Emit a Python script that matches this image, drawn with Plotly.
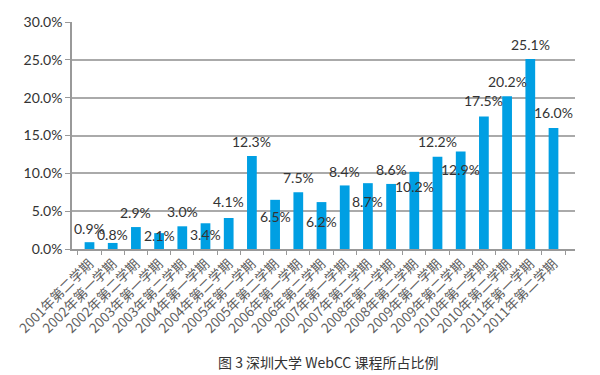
import plotly.graph_objects as go

categories = ["2001年第二学期", "2002年第一学期", "2002年第二学期", "2003年第一学期",
              "2003年第二学期", "2004年第一学期", "2004年第二学期", "2005年第一学期",
              "2005年第二学期", "2006年第一学期", "2006年第二学期", "2007年第一学期",
              "2007年第二学期", "2008年第一学期", "2008年第二学期", "2009年第一学期",
              "2009年第二学期", "2010年第一学期", "2010年第二学期", "2011年第一学期",
              "2011年第二学期"]
values = [0.9, 0.8, 2.9, 2.1, 3.0, 3.4, 4.1, 12.3, 6.5, 7.5, 6.2, 8.4,
          8.7, 8.6, 10.2, 12.2, 12.9, 17.5, 20.2, 25.1, 16.0]
y_ticks = [0, 5, 10, 15, 20, 25, 30]
y_tick_labels = ["0.0%", "5.0%", "10.0%", "15.0%", "20.0%", "25.0%", "30.0%"]
caption = "图 3 深圳大学 WebCC 课程所占比例"

# label placement: vertical offset (px) of each value label relative to bar top
label_shift = [14, 8, 15, -2, 15, -11, 16, 14, -17, 15, -19, 14,
               -18, 14, -15, 15, -18, 16, 15, 15, 15]

fig = go.Figure()
fig.add_trace(go.Bar(
    x=categories, y=values, marker=dict(color="#009FE3", line=dict(width=0)),
    width=0.42, hoverinfo="skip",
))

for c, v, s in zip(categories, values, label_shift):
    fig.add_annotation(x=c, y=v, text=f"{v:.1f}%", showarrow=False,
                       yshift=s, yanchor="middle", xanchor="center",
                       font=dict(family="Lato, Noto Sans", size=14, color="#333333"))

fig.add_annotation(x=0.5, xref="paper", y=0, yref="paper", yshift=-113,
                   text=caption, showarrow=False, yanchor="middle", xanchor="center",
                   xshift=4,
                   font=dict(family="Noto Sans CJK SC, Noto Sans", size=14, color="#333333"))

fig.update_layout(
    width=600, height=375,
    margin=dict(l=72, r=25, t=22, b=126),
    paper_bgcolor="white", plot_bgcolor="white",
    showlegend=False,
    xaxis=dict(type="category", tickangle=-45, tickson="boundaries", automargin=False,
               ticks="outside", ticklen=4, tickcolor="#999999",
               showline=True, linecolor="#999999", linewidth=1.5,
               showgrid=False,
               tickfont=dict(family="Noto Sans CJK SC, Lato", size=13.5, color="#606060")),
    yaxis=dict(range=[0, 30], tickvals=y_ticks, ticktext=y_tick_labels, automargin=False,
               ticks="outside", ticklen=5, tickcolor="#999999",
               showline=True, linecolor="#999999", linewidth=1.5,
               showgrid=True, gridcolor="#aaaaaa", gridwidth=1.5,
               zeroline=False,
               tickfont=dict(family="Lato, Noto Sans", size=14, color="#333333")),
)

fig.write_html("out.html", config={"displayModeBar": False},
               post_script="document.body.style.margin='0';")
